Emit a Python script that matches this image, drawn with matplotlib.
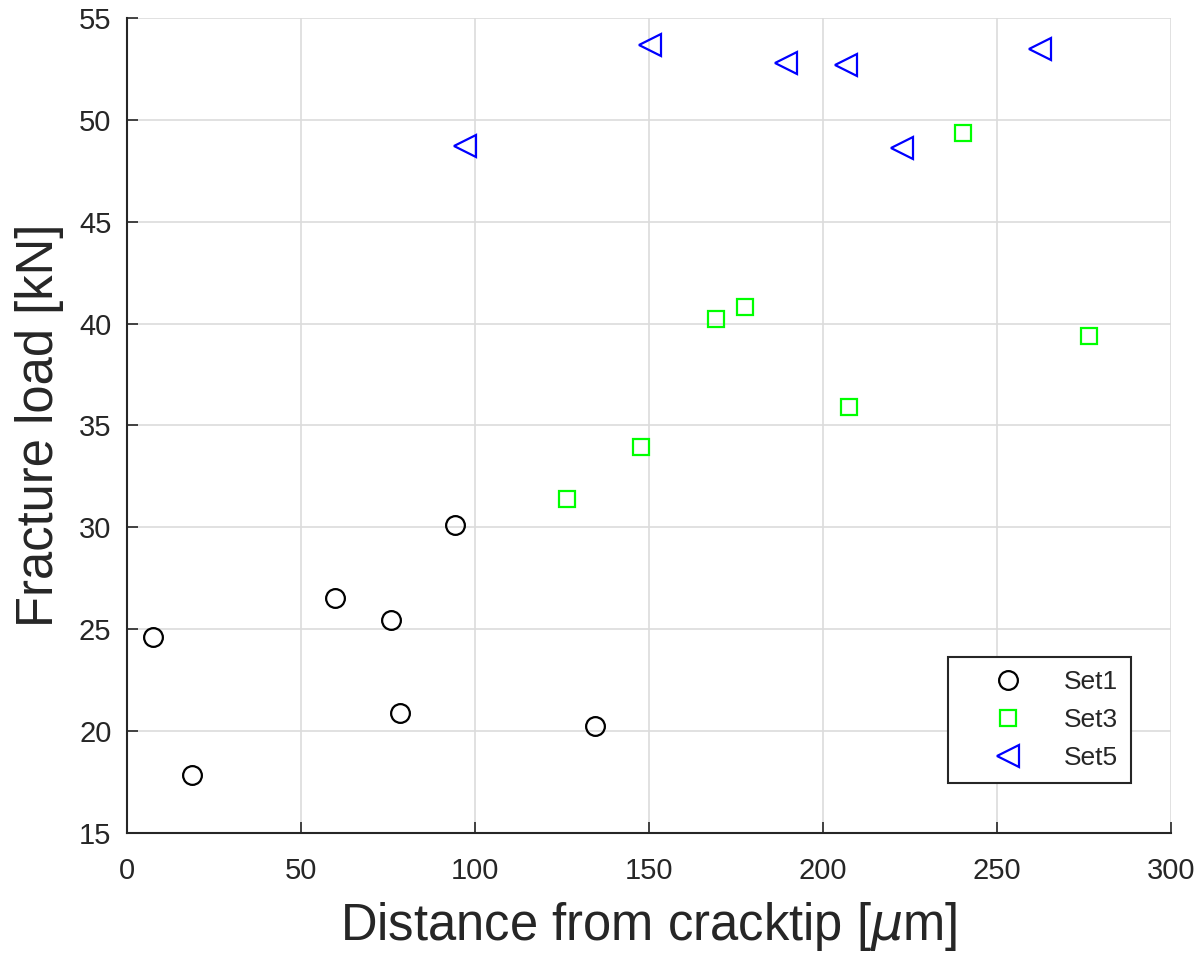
import matplotlib.pyplot as plt

plt.rcParams['font.family'] = ['Liberation Sans', 'DejaVu Sans']

# Set1 (circles)
set1_x = [7.7, 18.9, 59.8, 75.9, 78.5, 94.4, 134.4]
set1_y = [24.62, 17.84, 26.51, 25.44, 20.87, 30.10, 20.26]

# Set3 (squares)
set3_x = [126.5, 147.7, 169.4, 177.6, 207.6, 240.3, 276.3]
set3_y = [31.41, 33.93, 40.21, 40.82, 35.91, 49.37, 39.41]

# Set5 (left triangles)
set5_x = [97.1, 150.4, 189.4, 206.6, 222.6, 262.4]
set5_y = [48.71, 53.68, 52.79, 52.67, 48.61, 53.47]

xticks = [0, 50, 100, 150, 200, 250, 300]
yticks = [15, 20, 25, 30, 35, 40, 45, 50, 55]

fig = plt.figure(figsize=(12.03, 9.6), dpi=100)
ax = fig.add_axes([0.1053, 0.1323, 0.8682, 0.8490])

ax.plot(set1_x, set1_y, 'o', ls='none', mfc='none', mec='k', ms=13.5, mew=1.6, label='Set1')
ax.plot(set3_x, set3_y, 's', ls='none', mfc='none', mec='#00ff00', ms=11.5, mew=1.6, label='Set3')
ax.plot(set5_x, set5_y, '<', ls='none', mfc='none', mec='#0000ff', ms=16, mew=1.6, label='Set5')

ax.set_xlim(0, 300)
ax.set_ylim(15, 55)
ax.set_xticks(xticks)
ax.set_yticks(yticks)
ax.grid(True, color='#dcdcdc', lw=1.2)
ax.set_axisbelow(True)

for s in ['top', 'right']:
    ax.spines[s].set_visible(False)
for s in ['left', 'bottom']:
    ax.spines[s].set_color('#262626')
    ax.spines[s].set_linewidth(1.5)

ax.tick_params(direction='in', length=8, width=1.2, color='#262626',
               labelcolor='#262626', labelsize=21)
ax.tick_params(axis='x', pad=17)
ax.tick_params(axis='y', pad=11)

ax.set_xlabel('Distance from cracktip [$\\mu$m]', fontsize=36.5, color='#262626', labelpad=11)
ax.set_ylabel('Fracture load [kN]', fontsize=36.5, color='#262626', labelpad=11)

leg = ax.legend(loc='lower right', bbox_to_anchor=(0.9617, 0.0613), borderaxespad=0,
                fontsize=19, fancybox=False, framealpha=1, edgecolor='#262626',
                handletextpad=0.3, borderpad=0.5, labelspacing=0.53, handlelength=3.6)
leg.get_frame().set_linewidth(1.5)
for t in leg.get_texts():
    t.set_color('#262626')

fig.savefig('out.png', dpi=100)
